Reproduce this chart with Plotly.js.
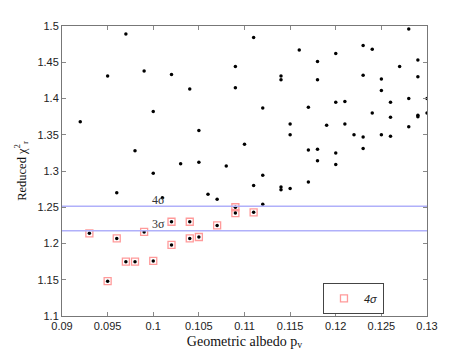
<!DOCTYPE html>
<html>
<head>
<meta charset="utf-8">
<script src="https://cdn.plot.ly/plotly-3.0.1.min.js"></script>
<style>html,body{margin:0;padding:0;background:#fff;}#chart{width:471px;height:356px;}</style>
</head>
<body>
<div id="chart"></div>
<script>
// Points above the 4-sigma threshold (black dots only)
const otherAlbedo = [0.092,0.095,0.097,0.099,0.100,0.098,0.102,0.104,0.105,0.103,0.105,0.108,0.109,0.109,0.111,0.110,0.112,0.114,0.114,0.115,0.115,0.116,0.117,0.117,0.118,0.118,0.118,0.118,0.119,0.120,0.120,0.120,0.120,0.121,0.121,0.122,0.123,0.123,0.123,0.123,0.124,0.124,0.125,0.125,0.125,0.126,0.126,0.126,0.127,0.128,0.128,0.128,0.129,0.129,0.129,0.129,0.130,0.130,0.096,0.100,0.106,0.107,0.101,0.111,0.112,0.112,0.114,0.114,0.115,0.117];
const otherChi2 = [1.368,1.431,1.489,1.438,1.382,1.328,1.433,1.413,1.356,1.310,1.312,1.307,1.444,1.415,1.484,1.337,1.387,1.431,1.426,1.365,1.350,1.467,1.388,1.329,1.451,1.426,1.330,1.314,1.363,1.462,1.395,1.325,1.309,1.396,1.365,1.350,1.473,1.432,1.347,1.331,1.468,1.380,1.427,1.411,1.350,1.395,1.374,1.348,1.444,1.496,1.400,1.361,1.453,1.430,1.377,1.375,1.400,1.380,1.270,1.297,1.268,1.261,1.263,1.280,1.294,1.254,1.278,1.274,1.276,1.285];
// Points within 4 sigma (red squares)
const sigmaAlbedo = [0.093,0.095,0.096,0.097,0.098,0.099,0.100,0.102,0.102,0.104,0.104,0.105,0.107,0.109,0.109,0.111];
const sigmaChi2 = [1.214,1.148,1.207,1.175,1.175,1.216,1.176,1.230,1.198,1.230,1.207,1.209,1.225,1.250,1.242,1.243];
// Sigma thresholds
const sigmaLevels = [1.2177, 1.2513];
const sigmaLabels = ["3σ", "4σ"];
const sigmaLabelY = [1.2265, 1.260];

const xRange = [0.09, 0.13];
const yRange = [1.1, 1.5];
const xTicks = [0.09,0.095,0.1,0.105,0.11,0.115,0.12,0.125,0.13];
const yTicks = [1.1,1.15,1.2,1.25,1.3,1.35,1.4,1.45,1.5];

const traces = [
  {x: sigmaAlbedo, y: sigmaChi2, type:'scatter', mode:'markers', name:'<i>4σ</i>',
   marker:{symbol:'square-open', size:7, color:'#ff9a9a', line:{width:1.3, color:'#ff9a9a'}}},
  {x: otherAlbedo.concat(sigmaAlbedo), y: otherChi2.concat(sigmaChi2), type:'scatter', mode:'markers', showlegend:false,
   marker:{symbol:'circle', size:3.5, color:'#000'}}
];

const shapes = sigmaLevels.map(v => ({type:'line', xref:'paper', x0:0, x1:1, yref:'y', y0:v, y1:v,
  line:{color:'#b0b0fa', width:1.5}}));

const annotations = sigmaLabels.map((t,i) => ({x:0.1006, y:sigmaLabelY[i], xref:'x', yref:'y', text:t, showarrow:false,
  font:{family:'Liberation Serif', size:12, color:'#333'}}));

const layout = {
  width:471, height:356,
  margin:{l:62, r:44, t:26, b:40},
  paper_bgcolor:'#fff', plot_bgcolor:'#fff',
  font:{family:'Liberation Sans, Arial', size:11, color:'#222'},
  xaxis:{range:xRange, tickvals:xTicks, ticktext:xTicks.map(String),
    ticks:'inside', ticklen:4, tickcolor:'#888', showline:true, linecolor:'#777', linewidth:1, mirror:'ticks',
    showgrid:false, zeroline:false, tickfont:{size:11, color:'#222'},
    title:{text:'Geometric albedo p<sub>v</sub>', font:{family:'Liberation Serif', size:14, color:'#111'}, standoff:4}},
  yaxis:{range:yRange, tickvals:yTicks, ticktext:yTicks.map(String),
    ticks:'inside', ticklen:4, tickcolor:'#888', showline:true, linecolor:'#777', linewidth:1, mirror:'ticks',
    showgrid:false, zeroline:false, tickfont:{size:11, color:'#222'},
    title:{text:'Reduced χ<sup>2</sup><sub>r</sub>', font:{family:'Liberation Serif', size:12.5, color:'#111'}, standoff:8}},
  showlegend:true,
  legend:{x:0.715, y:0.114, xanchor:'left', yanchor:'top', bgcolor:'#fff', bordercolor:'#444', borderwidth:1,
    font:{family:'Liberation Sans', size:11, color:'#222'}},
  shapes:shapes, annotations:annotations
};

Plotly.newPlot('chart', traces, layout, {displayModeBar:false, staticPlot:true});
</script>
</body>
</html>
